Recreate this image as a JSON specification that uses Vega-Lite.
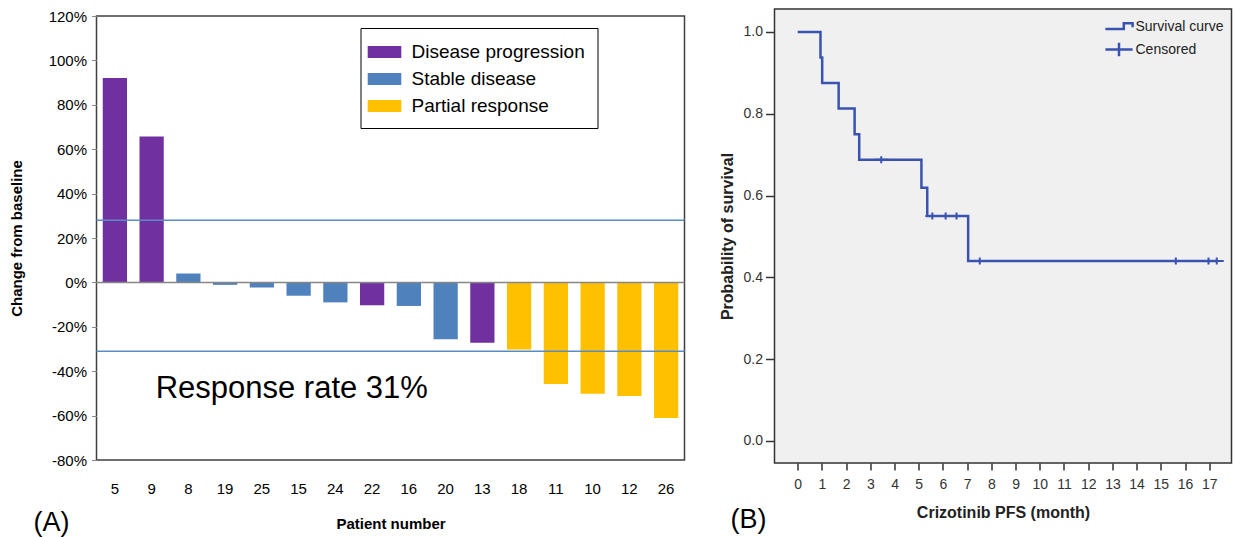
{
  "$schema": "https://vega.github.io/schema/vega-lite/v6.json",
  "background": "white",
  "padding": {"left": 7.5, "top": 8, "right": 0, "bottom": 0},
  "config": {"font": "Liberation Sans"},
  "spacing": 31,
  "resolve": {"legend": {"color": "independent", "shape": "independent"}, "scale": {"x": "independent", "y": "independent", "color": "independent", "shape": "independent"}},
  "hconcat": [
    {
      "spacing": -2,
      "vconcat": [
        {
          "width": 588,
          "height": 1,
          "view": {"stroke": null},
          "data": {"values": [{"spacer": 0}]},
          "mark": {"type": "rule", "opacity": 0},
          "encoding": {}
        },
        {
          "width": 588,
          "height": 444,
          "view": {"stroke": "#404040", "strokeWidth": 1.5},
          "title": {"text": "(A)", "orient": "bottom", "anchor": "start", "frame": "group", "fontSize": 27, "fontWeight": "normal", "color": "black", "offset": -21, "dx": -63},
          "layer": [
            {
              "data": {"values": [
                {"patient": "5", "change": 0.921, "response": "Disease progression"},
                {"patient": "9", "change": 0.657, "response": "Disease progression"},
                {"patient": "8", "change": 0.040, "response": "Stable disease"},
                {"patient": "19", "change": -0.011, "response": "Stable disease"},
                {"patient": "25", "change": -0.023, "response": "Stable disease"},
                {"patient": "15", "change": -0.060, "response": "Stable disease"},
                {"patient": "24", "change": -0.090, "response": "Stable disease"},
                {"patient": "22", "change": -0.103, "response": "Disease progression"},
                {"patient": "16", "change": -0.106, "response": "Stable disease"},
                {"patient": "20", "change": -0.256, "response": "Stable disease"},
                {"patient": "13", "change": -0.272, "response": "Disease progression"},
                {"patient": "18", "change": -0.302, "response": "Partial response"},
                {"patient": "11", "change": -0.458, "response": "Partial response"},
                {"patient": "10", "change": -0.502, "response": "Partial response"},
                {"patient": "12", "change": -0.512, "response": "Partial response"},
                {"patient": "26", "change": -0.611, "response": "Partial response"}
              ]},
              "mark": {"type": "bar"},
              "encoding": {
                "x": {"field": "patient", "type": "nominal",
                  "scale": {"domain": ["5", "9", "8", "19", "25", "15", "24", "22", "16", "20", "13", "18", "11", "10", "12", "26"], "paddingInner": 0.34, "paddingOuter": 0.17},
                  "axis": {"title": "Patient number", "titleFontSize": 15, "titleFontWeight": "bold", "titleColor": "black", "labelFontSize": 15, "labelColor": "black", "labelAngle": 0, "ticks": false, "domain": false, "labelPadding": 21, "titlePadding": 20}},
                "y": {"field": "change", "type": "quantitative",
                  "scale": {"domain": [-0.8, 1.2], "nice": false},
                  "axis": {"values": [-0.8, -0.6, -0.4, -0.2, 0, 0.2, 0.4, 0.6, 0.8, 1.0, 1.2], "labelExpr": "(datum.value < 0 ? '-' : '') + format(abs(datum.value), '.0%')", "title": "Change from baseline", "titleFontSize": 15, "titleFontWeight": "bold", "titleColor": "black", "labelFontSize": 15, "labelColor": "black", "tickSize": 5, "tickColor": "#888888", "labelPadding": 5, "titlePadding": 24, "domain": false, "grid": false}},
                "color": {"field": "response", "type": "nominal",
                  "scale": {"domain": ["Disease progression", "Stable disease", "Partial response"], "range": ["#7030A0", "#4F81BD", "#FFC000"]},
                  "legend": {"title": null, "orient": "none", "legendX": 264, "legendY": 19, "direction": "vertical", "symbolType": "M-1.4,-0.5H1.4V0.5H-1.4Z", "symbolSize": 576, "labelFontSize": 19, "labelColor": "black", "labelLimit": 400, "labelOffset": 15, "rowPadding": 5, "padding": 12, "strokeColor": "black", "fillColor": "white", "symbolStrokeWidth": 0}}
              }
            },
            {
              "data": {"values": [{"level": 0}]},
              "mark": {"type": "rule", "color": "#868686", "strokeWidth": 1.5},
              "encoding": {"y": {"field": "level", "type": "quantitative"}}
            },
            {
              "data": {"values": [{"level": 0.28}, {"level": -0.31}]},
              "mark": {"type": "rule", "color": "#5B8BC5", "strokeWidth": 1.5},
              "encoding": {"y": {"field": "level", "type": "quantitative"}}
            },
            {
              "data": {"values": [{"label": "Response rate 31%", "patient": "9", "level": -0.48}]},
              "mark": {"type": "text", "fontSize": 31, "align": "left", "baseline": "middle", "dx": 4, "color": "black"},
              "encoding": {
                "x": {"field": "patient", "type": "nominal"},
                "y": {"field": "level", "type": "quantitative"},
                "text": {"field": "label"}
              }
            }
          ]
        }
      ]
    },
    {
      "width": 457,
      "height": 454,
      "view": {"fill": "#F0F0F0", "stroke": "#333333", "strokeWidth": 1.5},
      "title": {"text": "(B)", "orient": "bottom", "anchor": "start", "frame": "group", "fontSize": 27, "fontWeight": "normal", "color": "black", "offset": -13, "dx": -44},
      "encoding": {
        "x": {"field": "time", "type": "quantitative",
          "scale": {"domain": [-0.96, 17.92], "nice": false, "zero": false},
          "axis": {"values": [0, 1, 2, 3, 4, 5, 6, 7, 8, 9, 10, 11, 12, 13, 14, 15, 16, 17], "title": "Crizotinib PFS (month)", "titleFontSize": 16, "titleFontWeight": "bold", "titleColor": "#222222", "labelFontSize": 14, "labelColor": "#333333", "tickSize": 7, "tickColor": "#333333", "tickWidth": 1.5, "domain": false, "grid": false, "labelPadding": 7, "titlePadding": 13, "labelFlush": false, "labelOverlap": false}},
        "y": {"field": "surv", "type": "quantitative",
          "scale": {"domain": [-0.054, 1.056], "nice": false, "zero": false},
          "axis": {"values": [0, 0.2, 0.4, 0.6, 0.8, 1.0], "format": ".1f", "title": "Probability of survival", "titleFontSize": 16, "titleFontWeight": "bold", "titleColor": "#222222", "labelFontSize": 14, "labelColor": "#333333", "tickSize": 9, "tickColor": "#333333", "tickWidth": 1.5, "domain": false, "grid": false, "labelPadding": 3, "titlePadding": 8}}
      },
      "layer": [
        {
          "data": {"values": [
            {"time": 0, "surv": 1.0},
            {"time": 0.94, "surv": 0.9375},
            {"time": 1.01, "surv": 0.875},
            {"time": 1.69, "surv": 0.8125},
            {"time": 2.35, "surv": 0.75},
            {"time": 2.54, "surv": 0.6875},
            {"time": 5.11, "surv": 0.619},
            {"time": 5.35, "surv": 0.55},
            {"time": 7.04, "surv": 0.44},
            {"time": 17.31, "surv": 0.44}
          ]},
          "mark": {"type": "line", "interpolate": "step-after", "color": "#3A53B0", "strokeWidth": 2.5}
        },
        {
          "data": {"values": [
            {"time": 3.45, "surv": 0.6875, "status": "Censored"},
            {"time": 5.56, "surv": 0.55, "status": "Censored"},
            {"time": 6.11, "surv": 0.55, "status": "Censored"},
            {"time": 6.56, "surv": 0.55, "status": "Censored"},
            {"time": 7.52, "surv": 0.44, "status": "Censored"},
            {"time": 15.62, "surv": 0.44, "status": "Censored"},
            {"time": 16.97, "surv": 0.44, "status": "Censored"},
            {"time": 17.31, "surv": 0.44, "status": "Censored"}
          ]},
          "mark": {"type": "point", "filled": false, "color": "#3A53B0", "strokeWidth": 2, "size": 68, "opacity": 1},
          "encoding": {
            "shape": {"field": "status", "type": "nominal",
              "scale": {"domain": ["Survival curve", "Censored"], "range": ["M-1.7,0.3H0.6V-0.4H1.7V0.1", "M-1.7,0H1.7M0,-0.85V0.85"]},
              "legend": {"title": null, "orient": "top-right", "offset": 8, "padding": 0, "symbolSize": 256, "symbolStrokeWidth": 2.5, "symbolStrokeColor": "#3A53B0", "symbolFillColor": "transparent", "labelFontSize": 14, "labelColor": "#222222", "labelOffset": 7, "rowPadding": 3}}
          }
        }
      ]
    }
  ]
}
